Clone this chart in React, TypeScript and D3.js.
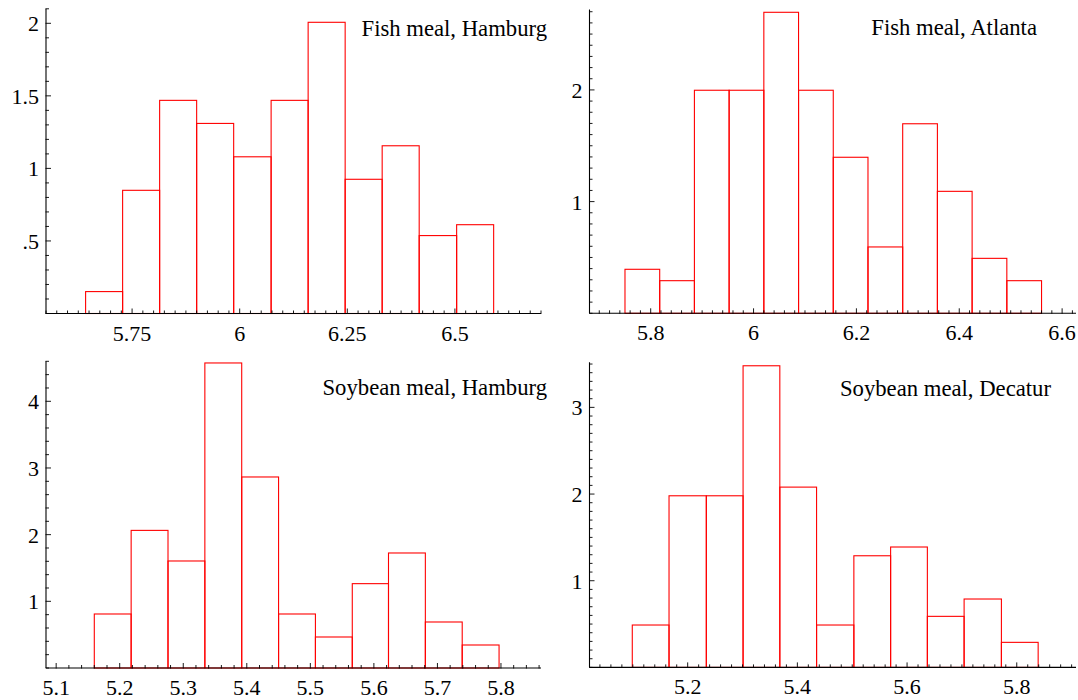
import React from "react";
import * as d3 from "d3";

// ---------- data ----------
const fishHamburgEdges = [5.642, 5.728, 5.814, 5.9, 5.986, 6.073, 6.159, 6.245, 6.331, 6.417, 6.504, 6.59];
const fishHamburgHeights = [0.151, 0.849, 1.469, 1.31, 1.08, 1.469, 2.007, 0.925, 1.156, 0.537, 0.612];
const fishHamburgXTicks = [5.75, 6, 6.25, 6.5];
const fishHamburgXLabels = ["5.75", "6", "6.25", "6.5"];
const fishHamburgYTicks = [0.5, 1, 1.5, 2];
const fishHamburgYLabels = [".5", "1", "1.5", "2"];

const fishAtlantaEdges = [5.75, 5.8175, 5.885, 5.9525, 6.02, 6.0875, 6.155, 6.2225, 6.29, 6.3575, 6.425, 6.4925, 6.56];
const fishAtlantaHeights = [0.394, 0.292, 1.997, 1.997, 2.695, 1.997, 1.397, 0.594, 1.697, 1.092, 0.492, 0.292];
const fishAtlantaXTicks = [5.8, 6, 6.2, 6.4, 6.6];
const fishAtlantaXLabels = ["5.8", "6", "6.2", "6.4", "6.6"];
const fishAtlantaYTicks = [1, 2];
const fishAtlantaYLabels = ["1", "2"];

const soyHamburgEdges = [5.16, 5.218, 5.276, 5.334, 5.392, 5.45, 5.508, 5.566, 5.623, 5.681, 5.739, 5.797];
const soyHamburgHeights = [0.81, 2.064, 1.605, 4.575, 2.865, 0.81, 0.465, 1.265, 1.725, 0.69, 0.345];
const soyHamburgXTicks = [5.1, 5.2, 5.3, 5.4, 5.5, 5.6, 5.7, 5.8];
const soyHamburgXLabels = ["5.1", "5.2", "5.3", "5.4", "5.5", "5.6", "5.7", "5.8"];
const soyHamburgYTicks = [1, 2, 3, 4];
const soyHamburgYLabels = ["1", "2", "3", "4"];

const soyDecaturEdges = [5.099, 5.166, 5.234, 5.301, 5.368, 5.435, 5.503, 5.57, 5.637, 5.704, 5.772, 5.839];
const soyDecaturHeights = [0.489, 1.98, 1.98, 3.48, 2.08, 0.489, 1.288, 1.389, 0.589, 0.789, 0.289];
const soyDecaturXTicks = [5.2, 5.4, 5.6, 5.8];
const soyDecaturXLabels = ["5.2", "5.4", "5.6", "5.8"];
const soyDecaturYTicks = [1, 2, 3];
const soyDecaturYLabels = ["1", "2", "3"];

const titles = ["Fish meal, Hamburg", "Fish meal, Atlanta", "Soybean meal, Hamburg", "Soybean meal, Decatur"];

// ---------- layout ----------
const FONT = "'Liberation Serif', 'Times New Roman', serif";
const FS = 22;
const TITLE_FS = 22.7;

type Panel = {
  edges: number[];
  heights: number[];
  xTicks: number[];
  xLabels: string[];
  yTicks: number[];
  yLabels: string[];
  title: string;
  xDomain: [number, number];
  xRange: [number, number];
  yDomain: [number, number];
  yRange: [number, number];
  xMinor: number;
  yMinor: number;
  titlePos: [number, number];
};

const panels: Panel[] = [
  {
    edges: fishHamburgEdges, heights: fishHamburgHeights,
    xTicks: fishHamburgXTicks, xLabels: fishHamburgXLabels,
    yTicks: fishHamburgYTicks, yLabels: fishHamburgYLabels,
    title: titles[0],
    xDomain: [5.55, 6.7], xRange: [46, 541],
    yDomain: [0, 2.1], yRange: [313.5, 8.8],
    xMinor: 0.025, yMinor: 0.1, titlePos: [547, 36],
  },
  {
    edges: fishAtlantaEdges, heights: fishAtlantaHeights,
    xTicks: fishAtlantaXTicks, xLabels: fishAtlantaXLabels,
    yTicks: fishAtlantaYTicks, yLabels: fishAtlantaYLabels,
    title: titles[1],
    xDomain: [5.681, 6.627], xRange: [589.5, 1076],
    yDomain: [0, 2.72], yRange: [313.3, 9.5],
    xMinor: 0.02, yMinor: 0.1, titlePos: [1037, 34.5],
  },
  {
    edges: soyHamburgEdges, heights: soyHamburgHeights,
    xTicks: soyHamburgXTicks, xLabels: soyHamburgXLabels,
    yTicks: soyHamburgYTicks, yLabels: soyHamburgYLabels,
    title: titles[2],
    xDomain: [5.084, 5.863], xRange: [46, 541],
    yDomain: [0, 4.6], yRange: [668, 361.3],
    xMinor: 0.02, yMinor: 0.2, titlePos: [547, 394.5],
  },
  {
    edges: soyDecaturEdges, heights: soyDecaturHeights,
    xTicks: soyDecaturXTicks, xLabels: soyDecaturXLabels,
    yTicks: soyDecaturYTicks, yLabels: soyDecaturYLabels,
    title: titles[3],
    xDomain: [5.021, 5.908], xRange: [589.5, 1076],
    yDomain: [0, 3.52], yRange: [667.4, 362.3],
    xMinor: 0.02, yMinor: 0.1, titlePos: [1051, 395.5],
  },
];

function minorTicks(d: [number, number], step: number): number[] {
  const out: number[] = [];
  const start = Math.ceil(d[0] / step - 1e-9);
  const end = Math.floor(d[1] / step + 1e-9);
  for (let i = start; i <= end; i++) out.push(+(i * step).toFixed(6));
  return out;
}

function HistPanel({ p }: { p: Panel }) {
  const x = d3.scaleLinear().domain(p.xDomain).range(p.xRange);
  const y = d3.scaleLinear().domain(p.yDomain).range(p.yRange);
  const y0 = y(0);
  const xMin = minorTicks(p.xDomain, p.xMinor);
  const yMin = minorTicks(p.yDomain, p.yMinor);
  const isMajor = (v: number, arr: number[]) => arr.some((t) => Math.abs(t - v) < 1e-6);
  return (
    <g>
      {p.heights.map((h, i) => {
        const xa = x(p.edges[i]);
        const xb = x(p.edges[i + 1]);
        return (
          <rect
            key={"b" + i}
            x={xa}
            y={y(h)}
            width={xb - xa}
            height={y0 - y(h)}
            fill="none"
            stroke="#ff0000"
            strokeWidth={1.1}
          />
        );
      })}
      <line x1={p.xRange[0]} x2={p.xRange[1]} y1={y0} y2={y0} stroke="#000" strokeWidth={1.1} />
      {xMin.map((v, i) => {
        const major = isMajor(v, p.xTicks);
        return (
          <line key={"xm" + i} x1={x(v)} x2={x(v)} y1={y0 + 0.5} y2={y0 - (major ? 5 : 3)} stroke="#000" strokeWidth={0.9} />
        );
      })}
      {p.xTicks.map((v, i) => (
        <text key={"xl" + i} x={x(v)} y={y0 + 27} textAnchor="middle" fontFamily={FONT} fontSize={FS} fill="#000">
          {p.xLabels[i]}
        </text>
      ))}
      <line x1={p.xRange[0]} x2={p.xRange[0]} y1={y0} y2={p.yRange[1]} stroke="#000" strokeWidth={1.1} />
      {yMin.map((v, i) => {
        const major = isMajor(v, p.yTicks);
        return (
          <line key={"ym" + i} x1={p.xRange[0] - 0.5} x2={p.xRange[0] + (major ? 5 : 3)} y1={y(v)} y2={y(v)} stroke="#000" strokeWidth={0.9} />
        );
      })}
      {p.yTicks.map((v, i) => (
        <text key={"yl" + i} x={p.xRange[0] - 7} y={y(v) + 8} textAnchor="end" fontFamily={FONT} fontSize={FS} fill="#000">
          {p.yLabels[i]}
        </text>
      ))}
      <text x={p.titlePos[0]} y={p.titlePos[1]} textAnchor="end" fontFamily={FONT} fontSize={TITLE_FS} fill="#000">
        {p.title}
      </text>
    </g>
  );
}

export default function App() {
  return (
    <svg
      width={1078}
      height={700}
      viewBox="0 0 1078 700"
      style={{ position: "absolute", left: 0, top: 0, background: "#fff" }}
    >
      <rect x={0} y={0} width={1078} height={700} fill="#fff" />
      {panels.map((p, i) => (
        <HistPanel key={i} p={p} />
      ))}
    </svg>
  );
}
